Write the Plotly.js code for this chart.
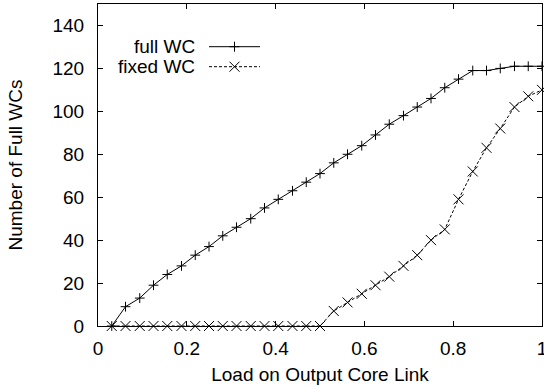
<!DOCTYPE html>
<html>
<head>
<meta charset="utf-8">
<script src="https://cdn.plot.ly/plotly-3.0.1.min.js"></script>
<style>html,body{margin:0;padding:0;background:#fff;}#chart{width:544px;height:387px;}</style>
</head>
<body>
<div id="chart"></div>
<script>
// Load on output core link (x) and series values
var loadValues = [0.031, 0.062, 0.094, 0.125, 0.156, 0.188, 0.219, 0.25, 0.281, 0.312,
                  0.344, 0.375, 0.406, 0.438, 0.469, 0.5, 0.531, 0.562, 0.594, 0.625,
                  0.656, 0.688, 0.719, 0.75, 0.781, 0.812, 0.844, 0.875, 0.906, 0.938,
                  0.969, 1.0];
var fullWC  = [0, 9, 13, 19, 24, 28, 33, 37, 42, 46, 50, 55, 59, 63, 67, 71,
               76, 80, 84, 89, 94, 98, 102, 106, 111, 115, 119, 119, 120, 121, 121, 121];
var fixedWC = [0, 0, 0, 0, 0, 0, 0, 0, 0, 0, 0, 0, 0, 0, 0, 0,
               7, 11, 15, 19, 23, 28, 33, 40, 45, 59, 72, 83, 92, 102, 107, 110];
var seriesNames = ["full WC", "fixed WC"];
var xTicks = [0, 0.2, 0.4, 0.6, 0.8, 1];
var yTicks = [0, 20, 40, 60, 80, 100, 120, 140];

var FONT = "Liberation Sans, Arial, Helvetica, sans-serif";
var FS = 19;
var DASH = "3px,2px";

var traces = [
  {
    x: loadValues, y: fullWC, type: "scatter", mode: "lines+markers", name: seriesNames[0],
    line: {color: "#000", width: 1},
    marker: {symbol: "cross-thin-open", size: 7, color: "#000", line: {color: "#000", width: 1}},
    cliponaxis: false, showlegend: false
  },
  {
    x: loadValues, y: fixedWC, type: "scatter", mode: "lines+markers", name: seriesNames[1],
    line: {color: "#000", width: 1, dash: DASH},
    marker: {symbol: "x-thin-open", size: 10, color: "#000", line: {color: "#000", width: 1}},
    cliponaxis: false, showlegend: false
  }
];

var W = 544, H = 387, L = 98, R = 2, T = 4, B = 61;
var pw = W - L - R, ph = H - T - B;
function px2x(p) { return (p - L) / pw; }
function py2y(p) { return (H - B - p) / ph; }

// gnuplot-style key: text right-aligned, then line sample with point in the middle
var keyTextRight = 197, keyLineStart = 209, keyLineEnd = 260, keyRows = [46.7, 66.7];
var keyMid = (keyLineStart + keyLineEnd) / 2;

var shapes = [
  {type: "line", xref: "paper", yref: "paper",
   x0: px2x(keyLineStart), x1: px2x(keyLineEnd), y0: py2y(keyRows[0]), y1: py2y(keyRows[0]),
   line: {color: "#000", width: 1}},
  {type: "line", xref: "paper", yref: "paper",
   x0: px2x(keyLineStart), x1: px2x(keyLineEnd), y0: py2y(keyRows[1]), y1: py2y(keyRows[1]),
   line: {color: "#000", width: 1, dash: DASH}},
  {type: "path", xref: "paper", yref: "paper", xsizemode: "pixel", ysizemode: "pixel",
   xanchor: px2x(keyMid), yanchor: py2y(keyRows[0]),
   path: "M-5,0H5M0,-5V5", line: {color: "#000", width: 1}},
  {type: "path", xref: "paper", yref: "paper", xsizemode: "pixel", ysizemode: "pixel",
   xanchor: px2x(keyMid), yanchor: py2y(keyRows[1]),
   path: "M-5,-5L5,5M-5,5L5,-5", line: {color: "#000", width: 1}}
];

var layout = {
  width: W, height: H,
  margin: {l: L, r: R, t: T, b: B, pad: 0},
  paper_bgcolor: "#fff", plot_bgcolor: "#fff",
  font: {family: FONT, size: FS, color: "#000"},
  showlegend: false,
  xaxis: {
    range: [0, 1], tickvals: xTicks, ticktext: xTicks.map(String),
    ticks: "inside", ticklen: 5, tickcolor: "#000", tickwidth: 1,
    showline: true, linecolor: "#000", linewidth: 1, mirror: "allticks",
    showgrid: false, zeroline: false, ticklabelstandoff: 5,
    ticklabeloverflow: "allow",
    title: {text: "Load on Output Core Link", font: {family: FONT, size: FS}, standoff: 9}
  },
  yaxis: {
    range: [0, 150], tickvals: yTicks, ticktext: yTicks.map(String),
    ticks: "inside", ticklen: 5, tickcolor: "#000", tickwidth: 1,
    showline: true, linecolor: "#000", linewidth: 1, mirror: "allticks",
    showgrid: false, zeroline: false, ticklabelstandoff: 9,
    title: {text: "Number of Full WCs", font: {family: FONT, size: FS}, standoff: 24}
  },
  shapes: shapes,
  annotations: [
    {xref: "paper", yref: "paper", x: px2x(keyTextRight), y: py2y(keyRows[0]), xanchor: "right", yanchor: "middle",
     text: seriesNames[0], showarrow: false, font: {family: FONT, size: FS}},
    {xref: "paper", yref: "paper", x: px2x(keyTextRight), y: py2y(keyRows[1]), xanchor: "right", yanchor: "middle",
     text: seriesNames[1], showarrow: false, font: {family: FONT, size: FS}}
  ]
};

Plotly.newPlot("chart", traces, layout, {displayModeBar: false, staticPlot: true});
</script>
</body>
</html>
